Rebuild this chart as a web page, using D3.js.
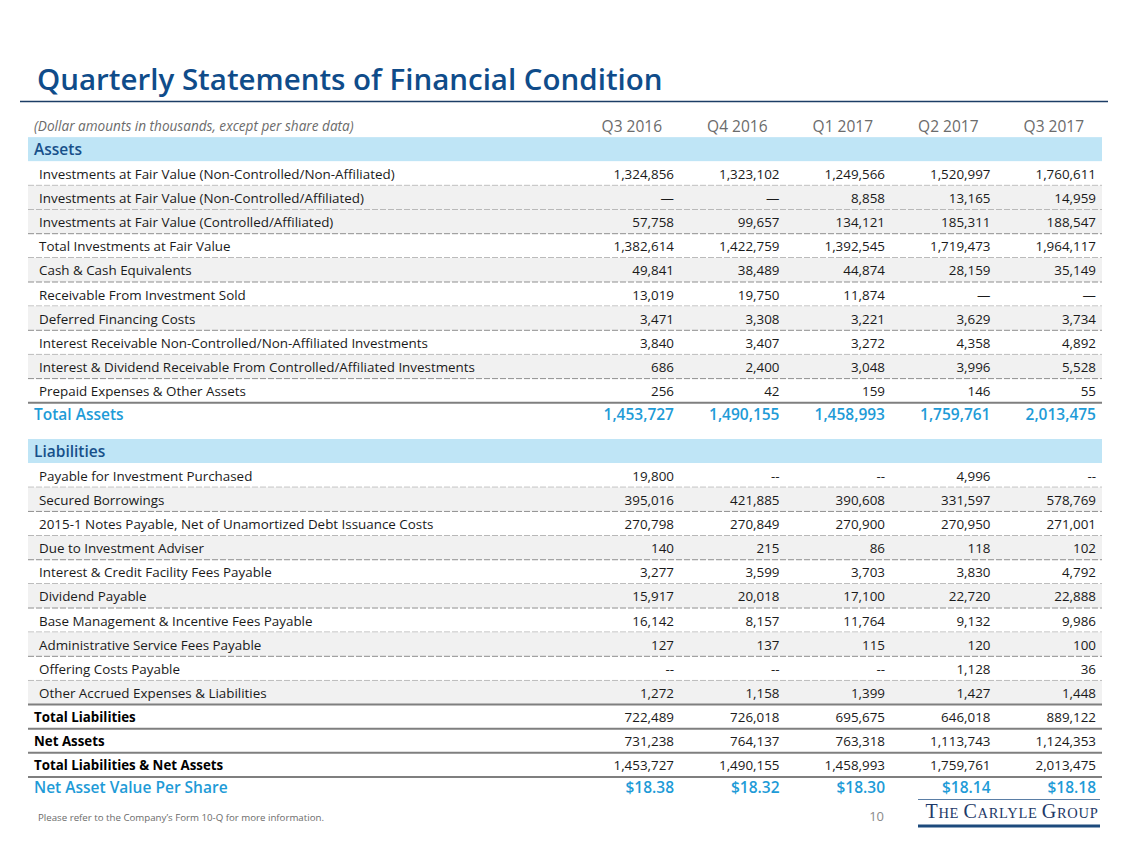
<!DOCTYPE html>
<html><head><meta charset="utf-8">
<script src="https://cdn.jsdelivr.net/npm/d3@7"></script>
<style>
html,body{margin:0;padding:0;background:#fff;}
svg{display:block;font-family:"Open Sans","Noto Sans",sans-serif;}
</style></head>
<body><svg id="chart" width="1128" height="845"></svg>
<script>
// ---------------- DATA ----------------
const quarters = ["Q3 2016","Q4 2016","Q1 2017","Q2 2017","Q3 2017"];

const assetLabels = [
  "Investments at Fair Value (Non-Controlled/Non-Affiliated)",
  "Investments at Fair Value (Non-Controlled/Affiliated)",
  "Investments at Fair Value (Controlled/Affiliated)",
  "Total Investments at Fair Value",
  "Cash & Cash Equivalents",
  "Receivable From Investment Sold",
  "Deferred Financing Costs",
  "Interest Receivable Non-Controlled/Non-Affiliated Investments",
  "Interest & Dividend Receivable From Controlled/Affiliated Investments",
  "Prepaid Expenses & Other Assets"
];
const assetValues = [
  [1324856,1323102,1249566,1520997,1760611],
  [null,null,8858,13165,14959],
  [57758,99657,134121,185311,188547],
  [1382614,1422759,1392545,1719473,1964117],
  [49841,38489,44874,28159,35149],
  [13019,19750,11874,null,null],
  [3471,3308,3221,3629,3734],
  [3840,3407,3272,4358,4892],
  [686,2400,3048,3996,5528],
  [256,42,159,146,55]
];
const assetShaded = [false,true,true,false,true,false,true,false,true,false];
const totalAssets = [1453727,1490155,1458993,1759761,2013475];

const liabilityLabels = [
  "Payable for Investment Purchased",
  "Secured Borrowings",
  "2015-1 Notes Payable, Net of Unamortized Debt Issuance Costs",
  "Due to Investment Adviser",
  "Interest & Credit Facility Fees Payable",
  "Dividend Payable",
  "Base Management & Incentive Fees Payable",
  "Administrative Service Fees Payable",
  "Offering Costs Payable",
  "Other Accrued Expenses & Liabilities"
];
const liabilityValues = [
  [19800,null,null,4996,null],
  [395016,421885,390608,331597,578769],
  [270798,270849,270900,270950,271001],
  [140,215,86,118,102],
  [3277,3599,3703,3830,4792],
  [15917,20018,17100,22720,22888],
  [16142,8157,11764,9132,9986],
  [127,137,115,120,100],
  [null,null,null,1128,36],
  [1272,1158,1399,1427,1448]
];
const liabilityShaded = [false,true,false,true,false,true,false,true,false,true];

const summaryLabels = ["Total Liabilities","Net Assets","Total Liabilities & Net Assets"];
const summaryValues = [
  [722489,726018,695675,646018,889122],
  [731238,764137,763318,1113743,1124353],
  [1453727,1490155,1458993,1759761,2013475]
];
const navPerShare = [18.38,18.32,18.30,18.14,18.18];

const assetDash = "\u2014";
const liabilityDash = "--";

// ---------------- DRAW ----------------
const svg = d3.select("#chart");
const fmt = d3.format(",");
const fmtNav = d3.format("$.2f");

const C = {
  title:"#0f4c8a", band:"#bfe5f6", head:"#17508a", total:"#1e9bd7",
  shade:"#f1f1f1", dash:"#8f8f8f", rule:"#7f7f7f", text:"#1a1a1a", grey:"#6b6b6b"
};
const tableL = 28, tableR = 1102;
const FS = 13.4;

// column scale (right edges of numbers)
const x = d3.scalePoint().domain(quarters).range([674, 1096]);
// row slot scale
const slot = d3.scaleLinear().domain([0, 1]).range([125, 149.15]);

// title
svg.append("text").attr("x", 37).attr("y", 90)
  .attr("font-size", 29.5).attr("font-weight", 600).attr("fill", C.title)
  .text("Quarterly Statements of Financial Condition");
svg.append("line").attr("x1", 20).attr("x2", 1108).attr("y1", 101.5).attr("y2", 101.5)
  .attr("stroke", "#1c3d66").attr("stroke-width", 1.5);

// subheader
svg.append("text").attr("x", 34).attr("y", slot(0) + 1.5).attr("dy", "0.35em")
  .attr("font-size", 13.6).attr("font-style", "italic").attr("fill", C.grey)
  .text("(Dollar amounts in thousands, except per share data)");
svg.selectAll(".qh").data(quarters).join("text")
  .attr("x", d => x(d) - 12).attr("y", slot(0) + 1.5).attr("dy", "0.35em")
  .attr("text-anchor", "end").attr("font-size", 15.5).attr("fill", C.grey)
  .text(d => d);

function band(s, label) {
  const y = slot(s);
  svg.append("rect").attr("x", tableL).attr("y", y - 12).attr("width", tableR - tableL).attr("height", 24)
    .attr("fill", C.band);
  svg.append("text").attr("x", 34).attr("y", y + 0.5).attr("dy", "0.35em")
    .attr("font-size", 15.5).attr("font-weight", 600).attr("fill", C.head).text(label);
}

function detailRows(startSlot, labels, values, shaded, dashSym) {
  labels.forEach((lab, i) => {
    const y = slot(startSlot + i);
    if (shaded[i]) {
      svg.append("rect").attr("x", tableL).attr("y", y - 12).attr("width", tableR - tableL).attr("height", 24.15)
        .attr("fill", C.shade);
    }
    svg.append("text").attr("x", 39).attr("y", y + 0.8).attr("dy", "0.35em")
      .attr("font-size", FS).attr("fill", C.text).text(lab);
    svg.append("g").selectAll("text").data(values[i]).join("text")
      .attr("x", (d, j) => x(quarters[j])).attr("y", y + 0.8).attr("dy", "0.35em")
      .attr("text-anchor", "end").attr("font-size", FS).attr("fill", C.text)
      .text(d => d == null ? dashSym : fmt(d));
    if (i < labels.length - 1) {
      svg.append("line").attr("x1", tableL).attr("x2", tableR)
        .attr("y1", y + 12.1).attr("y2", y + 12.1)
        .attr("stroke", C.dash).attr("stroke-width", 1).attr("stroke-dasharray", "6,2");
    } else {
      svg.append("line").attr("x1", tableL).attr("x2", tableR)
        .attr("y1", y + 12).attr("y2", y + 12)
        .attr("stroke", C.rule).attr("stroke-width", 2);
    }
  });
}

function bigRow(s, label, values, f) {
  const y = slot(s);
  svg.append("text").attr("x", 34).attr("y", y).attr("dy", "0.35em")
    .attr("font-size", 15.5).attr("font-weight", 600).attr("fill", C.total).text(label);
  svg.append("g").selectAll("text").data(values).join("text")
    .attr("x", (d, j) => x(quarters[j])).attr("y", y).attr("dy", "0.35em")
    .attr("text-anchor", "end").attr("font-size", 15.5).attr("font-weight", 600).attr("fill", C.total)
    .text(d => f(d));
}

// Assets
band(1, "Assets");
detailRows(2, assetLabels, assetValues, assetShaded, assetDash);
bigRow(12, "Total Assets", totalAssets, fmt);

// Liabilities
band(13.5, "Liabilities");
detailRows(14.5, liabilityLabels, liabilityValues, liabilityShaded, liabilityDash);

summaryLabels.forEach((lab, i) => {
  const y = slot(24.5 + i);
  svg.append("text").attr("x", 34).attr("y", y + 0.8).attr("dy", "0.35em")
    .attr("font-size", 13.3).attr("font-weight", 700).attr("fill", "#000").text(lab);
  svg.append("g").selectAll("text").data(summaryValues[i]).join("text")
    .attr("x", (d, j) => x(quarters[j])).attr("y", y + 0.8).attr("dy", "0.35em")
    .attr("text-anchor", "end").attr("font-size", FS).attr("fill", C.text)
    .text(d => fmt(d));
  svg.append("line").attr("x1", tableL).attr("x2", tableR)
    .attr("y1", y + 12).attr("y2", y + 12)
    .attr("stroke", C.rule).attr("stroke-width", 2);
});

bigRow(27.45, "Net Asset Value Per Share", navPerShare, fmtNav);

// footer
svg.append("text").attr("x", 38).attr("y", 821)
  .attr("font-size", 9.7).attr("fill", C.grey)
  .text("Please refer to the Company\u2019s Form 10-Q for more information.");
svg.append("text").attr("x", 884).attr("y", 821).attr("text-anchor", "end")
  .attr("font-size", 13).attr("fill", "#8a8a8a").text("10");

// logo
svg.append("line").attr("x1", 918).attr("x2", 1100).attr("y1", 799.5).attr("y2", 799.5)
  .attr("stroke", "#5a7ea6").attr("stroke-width", 1);
const logo = svg.append("text").attr("x", 1012).attr("y", 818).attr("text-anchor", "middle")
  .attr("font-family", "'Liberation Serif','DejaVu Serif',serif").attr("fill", "#1e3a68")
  .attr("letter-spacing", 0.7);
[["T",20],["HE ",14.5],["C",20],["ARLYLE ",14.5],["G",20],["ROUP",14.5]].forEach(([t, s]) => {
  logo.append("tspan").attr("font-size", s).text(t);
});
svg.append("line").attr("x1", 918).attr("x2", 1100).attr("y1", 826).attr("y2", 826)
  .attr("stroke", "#1c4a7c").attr("stroke-width", 3);
</script></body></html>
